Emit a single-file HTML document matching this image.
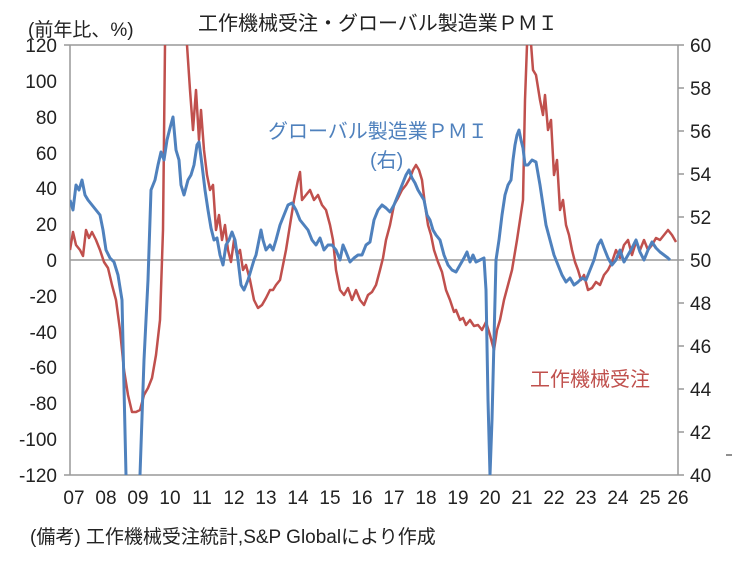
<!DOCTYPE html>
<html><head><meta charset="utf-8"><style>
body{margin:0;background:#fff;}
svg text{font-family:"Liberation Sans","Noto Sans CJK JP",sans-serif;}
</style></head><body>
<svg width="733" height="562" viewBox="0 0 733 562" xmlns="http://www.w3.org/2000/svg">
<defs><clipPath id="c"><rect x="70" y="45" width="608" height="430"/></clipPath></defs>
<rect width="733" height="562" fill="#fff"/>
<text x="28" y="36" font-size="19" fill="#222">(前年比、%)</text>
<text x="198" y="30" font-size="20" fill="#222">工作機械受注・グローバル製造業ＰＭＩ</text>
<g stroke="#999" stroke-width="1.5" fill="none">
<line x1="70" y1="45" x2="678" y2="45"/>
<line x1="70" y1="45" x2="70" y2="475"/>
<line x1="678" y1="45" x2="678" y2="475"/>
<line x1="70" y1="475" x2="678" y2="475"/>
<line x1="70" y1="260" x2="678" y2="260"/>
<line x1="678" y1="45" x2="684" y2="45"/><line x1="678" y1="88" x2="684" y2="88"/><line x1="678" y1="131" x2="684" y2="131"/><line x1="678" y1="174" x2="684" y2="174"/><line x1="678" y1="217" x2="684" y2="217"/><line x1="678" y1="260" x2="684" y2="260"/><line x1="678" y1="303" x2="684" y2="303"/><line x1="678" y1="346" x2="684" y2="346"/><line x1="678" y1="389" x2="684" y2="389"/><line x1="678" y1="432" x2="684" y2="432"/><line x1="678" y1="475" x2="684" y2="475"/>
<line x1="64" y1="45" x2="70" y2="45"/><line x1="64" y1="475" x2="70" y2="475"/>
</g>
<g font-size="19" fill="#222" text-anchor="end">
<text x="57" y="52">120</text><text x="57" y="88">100</text><text x="57" y="124">80</text><text x="57" y="160">60</text><text x="57" y="195">40</text><text x="57" y="231">20</text><text x="57" y="267">0</text><text x="57" y="303">-20</text><text x="57" y="339">-40</text><text x="57" y="374">-60</text><text x="57" y="410">-80</text><text x="57" y="446">-100</text><text x="57" y="482">-120</text>
</g>
<g font-size="19" fill="#222" text-anchor="start">
<text x="690" y="52">60</text><text x="690" y="95">58</text><text x="690" y="138">56</text><text x="690" y="181">54</text><text x="690" y="224">52</text><text x="690" y="267">50</text><text x="690" y="310">48</text><text x="690" y="353">46</text><text x="690" y="396">44</text><text x="690" y="439">42</text><text x="690" y="482">40</text>
</g>
<g font-size="19" fill="#222" text-anchor="middle">
<text x="74" y="504">07</text><text x="106" y="504">08</text><text x="138" y="504">09</text><text x="170" y="504">10</text><text x="202" y="504">11</text><text x="234" y="504">12</text><text x="266" y="504">13</text><text x="298" y="504">14</text><text x="330" y="504">15</text><text x="362" y="504">16</text><text x="394" y="504">17</text><text x="426" y="504">18</text><text x="458" y="504">19</text><text x="490" y="504">20</text><text x="522" y="504">21</text><text x="554" y="504">22</text><text x="586" y="504">23</text><text x="618" y="504">24</text><text x="650" y="504">25</text><text x="678" y="504">26</text>
</g>
<g clip-path="url(#c)" fill="none" stroke-width="3" stroke-linejoin="round">
<polyline stroke="#C0504D" stroke-width="2.5" points="70,250 73,232 76,245 80,250 83,256 86,230 89,238 92,232 96,240 100,250 104,262 108,268 112,285 116,300 120,330 124,370 128,395 132,412 136,412 140,410 144,395 148,388 152,378 156,355 160,320 163,230 165,45 170,20 180,20 187,45 190,90 193,130 196,90 199,140 201,110 204,150 207,175 210,190 213,185 216,230 219,215 222,240 225,225 228,250 231,262 234,240 237,255 240,250 243,270 246,265 250,280 254,300 258,308 262,305 266,298 270,290 273,290 276,285 280,280 283,265 286,250 290,225 294,200 298,180 300,172 302,200 306,195 310,190 314,200 318,195 322,205 326,210 330,225 333,240 336,270 340,290 344,295 348,288 352,300 356,290 360,300 364,305 368,295 372,292 376,285 380,270 383,258 386,240 390,225 394,205 398,198 402,190 406,185 410,178 413,170 416,165 419,170 422,180 425,205 428,225 431,235 434,250 438,262 442,272 446,290 450,300 454,312 456,310 460,320 463,318 466,325 470,320 474,326 478,325 482,330 486,322 490,335 494,350 497,330 500,320 504,300 508,285 512,270 514,258 517,240 520,220 523,200 525,100 527,45 530,30 533,70 536,75 540,100 543,115 545,95 548,130 551,120 554,175 557,160 560,210 563,200 566,225 569,235 572,250 575,262 578,270 581,280 584,275 588,290 592,288 596,282 600,285 604,275 608,270 612,262 616,250 620,258 624,245 628,240 632,255 636,242 640,250 644,240 648,250 652,245 656,238 660,240 664,235 668,230 672,235 676,242"/>
<polyline stroke="#4F81BD" points="70,200 73,210 76,185 79,190 82,180 85,195 88,200 92,205 96,210 100,215 103,230 106,250 110,258 114,262 118,275 122,300 126,475 128,490 138,490 140,475 144,360 148,280 151,190 155,180 158,165 161,152 164,160 167,140 170,128 173,117 176,150 179,160 181,185 184,195 188,180 191,175 194,165 197,145 199,142 202,165 205,190 208,210 211,228 214,240 217,238 220,255 223,265 226,245 229,240 232,232 235,240 238,260 241,285 244,290 248,280 251,270 254,260 256,255 259,240 261,230 263,240 266,250 270,245 273,250 276,240 280,225 284,215 288,205 292,203 296,210 300,220 304,225 308,230 312,240 316,245 320,238 324,250 328,245 332,245 336,250 340,260 343,245 346,252 350,262 354,258 358,255 362,255 366,245 370,242 374,220 378,210 382,205 386,208 390,212 394,205 398,195 402,185 406,175 409,170 412,178 415,183 418,190 421,195 424,200 427,215 430,220 433,230 436,235 440,240 444,255 448,265 452,270 456,272 460,265 464,258 467,252 470,262 473,255 476,262 480,260 484,258 486,290 488,400 490,475 492,420 494,340 496,260 499,240 502,215 505,195 508,185 511,180 513,160 515,145 517,135 519,130 521,140 523,148 525,165 528,165 532,160 536,162 540,185 543,205 546,225 550,240 554,255 558,265 562,275 566,282 570,278 574,285 578,282 582,278 586,280 590,270 594,260 598,245 601,240 604,248 608,258 612,265 616,260 620,250 624,262 628,255 632,248 636,240 640,252 644,260 648,250 652,242 656,248 660,252 664,255 668,258 670,260"/>
</g>
<text x="268" y="138" font-size="20" fill="#4F81BD">グローバル製造業ＰＭＩ</text>
<text x="370" y="167" font-size="20" fill="#4F81BD">(右)</text>
<text x="530" y="386" font-size="20" fill="#C0504D">工作機械受注</text>
<text x="30" y="543" font-size="19" fill="#222">(備考) 工作機械受注統計,S&amp;P Globalにより作成</text>
<line x1="726" y1="455" x2="732" y2="455" stroke="#222" stroke-width="1"/>
</svg>
</body></html>
